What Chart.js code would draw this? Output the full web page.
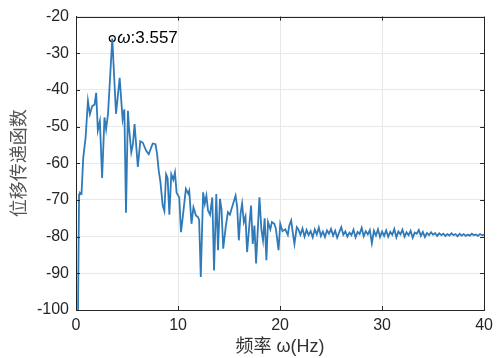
<!DOCTYPE html>
<html><head><meta charset="utf-8">
<script src="https://cdn.jsdelivr.net/npm/chart.js@4/dist/chart.umd.min.js"></script>
<style>html,body{margin:0;padding:0;background:#fff;}#wrap{width:499px;height:358px;}</style>
</head><body><div id="wrap"><canvas id="c" width="499" height="358"></canvas></div>
<script>
const freqHz = [0.2, 0.3, 0.39, 0.54, 0.71, 0.94, 1.17, 1.36, 1.59, 1.82, 1.98, 2.14, 2.34, 2.56, 2.79, 2.95, 3.14, 3.557, 3.92, 4.28, 4.57, 4.74, 4.9, 5.09, 5.19, 5.42, 5.58, 5.74, 6.06, 6.3, 6.55, 6.88, 7.13, 7.52, 7.79, 7.95, 8.11, 8.27, 8.5, 8.66, 8.83, 8.98, 9.15, 9.34, 9.54, 9.7, 9.86, 10.12, 10.29, 10.41, 10.77, 11.0, 11.1, 11.32, 11.51, 11.75, 11.97, 12.07, 12.23, 12.46, 12.62, 12.78, 12.94, 13.14, 13.36, 13.53, 13.75, 13.92, 14.11, 14.26, 14.43, 14.67, 14.89, 15.09, 15.25, 15.64, 15.8, 15.96, 16.13, 16.28, 16.45, 16.61, 16.77, 17.0, 17.16, 17.32, 17.49, 17.65, 17.81, 17.98, 18.17, 18.33, 18.49, 18.66, 18.82, 19.05, 19.2, 19.44, 19.59, 19.85, 20.02, 20.24, 20.51, 20.76, 20.9, 21.09, 21.25, 21.41, 21.64, 21.8,
 22.0, 22.2, 22.4, 22.6, 22.8, 23.0, 23.2, 23.4, 23.6, 23.8, 24.0, 24.2, 24.4, 24.6, 24.8, 25.0, 25.2, 25.4, 25.6, 25.8, 26.0, 26.2, 26.4, 26.6, 26.8, 27.0, 27.2, 27.4, 27.6, 27.8, 28.0, 28.2, 28.4, 28.6, 28.8, 29.0, 29.2, 29.4, 29.6, 29.8, 30.0, 30.2, 30.4, 30.6, 30.8, 31.0, 31.2, 31.4, 31.6, 31.8, 32.0, 32.2, 32.4, 32.6, 32.8, 33.0, 33.2, 33.4, 33.6, 33.8, 34.0, 34.2, 34.4, 34.6, 34.8, 35.0, 35.2, 35.4, 35.6, 35.8, 36.0, 36.2, 36.4, 36.6, 36.8, 37.0, 37.2, 37.4, 37.6, 37.8, 38.0, 38.2, 38.4, 38.6, 38.8, 39.0, 39.2, 39.4, 39.6, 39.8, 40.0];
const magDb = [-100, -68.5, -68, -68.3, -58.5, -53, -43, -46.6, -44.4, -44, -40.8, -51, -48.5, -64, -47.5, -50.7, -46.5, -26, -46.5, -36.7, -48, -45.3, -73.5, -45.7, -50, -57, -54.8, -49.3, -61, -54, -54.4, -56.6, -57.5, -54.6, -54.8, -57.5, -62, -65, -71.5, -73, -63, -64, -74, -63, -64.5, -62.5, -68, -69.3, -78.8, -76, -67, -68.3, -67.5, -76.5, -72, -74.2, -74.7, -75.5, -91, -67.9, -71, -68.8, -72.9, -74, -69.3, -89.2, -68.4, -83.7, -69.7, -72.5, -83.3, -77.4, -73.3, -74, -72.4, -68.8, -72, -81, -73.7, -71, -76, -74.5, -84.2, -76.5, -71.5, -82, -77, -87.3, -78.5, -69.3, -78, -81, -75, -86.4, -76, -78, -76, -76.5, -77.8, -83.7, -76.5, -78.5, -78, -79.5, -77, -75.6, -79, -82, -77.4, -78,
 -79.5, -77.8, -80.0, -78.2, -79.6, -78.5, -80.2, -78.0, -79.4, -77.5, -79.8, -78.6, -80.1, -78.3, -79.2, -77.9, -79.7, -78.4, -80.3, -78.8, -77.4, -79.5, -78.6, -80.0, -78.9, -79.6, -78.1, -80.2, -78.7, -79.3, -77.6, -79.9, -78.5, -79.4, -78.2, -81.8, -78.4, -79.7, -78.0, -80.1, -78.6, -79.8, -78.3, -80.0, -78.7, -79.5, -77.9, -80.2, -78.6, -79.4, -78.1, -80.0, -78.8, -79.6, -78.4, -80.3, -78.9, -79.2, -78.2, -79.8, -78.7, -80.1, -79.0, -79.6, -78.8, -79.5, -79.0, -79.8, -79.1, -79.6, -79.2, -79.8, -79.3, -79.7, -79.1, -79.6, -79.3, -79.9, -79.2, -79.7, -79.3, -79.8, -79.4, -79.7, -79.2, -79.6, -79.4, -79.8, -79.3, -79.6, -79.5];
const peakFreq = [3.557];
const peakDb = [-26];
const peakLabelSymbol = 'ω';
const peakLabelValue = ':3.557';
const xTicks = [0, 10, 20, 30, 40];
const yTicks = [-100, -90, -80, -70, -60, -50, -40, -30, -20];
const xTitle = '频率 ω(Hz)';
const yTitle = '位移传递函数';

const axisColor = '#262626';
const boxPlugin = {
  id: 'box',
  afterDraw(chart) {
    const ctx = chart.ctx, a = chart.chartArea;
    const xs = chart.scales.x, ys = chart.scales.y;
    ctx.save();
    ctx.strokeStyle = axisColor;
    ctx.lineWidth = 1;
    ctx.strokeRect(Math.round(a.left) + 0.5, Math.round(a.top) + 0.5, Math.round(a.right - a.left), Math.round(a.bottom - a.top));
    ctx.beginPath();
    const L = 4;
    xTicks.forEach(v => {
      const px = Math.round(xs.getPixelForValue(v)) + 0.5;
      ctx.moveTo(px, a.bottom); ctx.lineTo(px, a.bottom - L);
      ctx.moveTo(px, a.top); ctx.lineTo(px, a.top + L);
    });
    yTicks.forEach(v => {
      const py = Math.round(ys.getPixelForValue(v)) + 0.5;
      ctx.moveTo(a.left, py); ctx.lineTo(a.left + L, py);
      ctx.moveTo(a.right, py); ctx.lineTo(a.right - L, py);
    });
    ctx.stroke();
    const px = xs.getPixelForValue(peakFreq[0]) + 5;
    const py = ys.getPixelForValue(peakDb[0]);
    ctx.fillStyle = '#000';
    ctx.textBaseline = 'middle';
    ctx.font = 'italic 17px "Liberation Sans", Arial, sans-serif';
    ctx.fillText(peakLabelSymbol, px, py);
    const w = ctx.measureText(peakLabelSymbol).width;
    ctx.font = '17px "Liberation Sans", Arial, sans-serif';
    ctx.fillText(peakLabelValue, px + w, py);
    ctx.restore();
  }
};

new Chart(document.getElementById('c'), {
  type: 'line',
  data: {
    datasets: [
      {
        data: freqHz.map((f, i) => ({x: f, y: magDb[i]})),
        borderColor: '#2f7ab9',
        borderWidth: 1.8,
        pointRadius: 0,
        tension: 0,
        fill: false
      },
      {
        data: peakFreq.map((f, i) => ({x: f, y: peakDb[i]})),
        showLine: false,
        pointRadius: 3,
        pointStyle: 'circle',
        borderColor: '#000',
        backgroundColor: 'rgba(0,0,0,0)',
        borderWidth: 1.2
      }
    ]
  },
  options: {
    responsive: false,
    animation: false,
    devicePixelRatio: 1,
    layout: {padding: {left: 0, right: 12, top: 15, bottom: 0}},
    plugins: {legend: {display: false}, tooltip: {enabled: false}},
    scales: {
      x: {
        type: 'linear', min: 0, max: 40,
        afterBuildTicks: s => { s.ticks = xTicks.map(v => ({value: v})); },
        afterFit: s => { s.height = 48; },
        grid: {color: '#e8e8e8', drawTicks: false},
        border: {color: axisColor},
        ticks: {padding: 6, color: axisColor, font: {family: '"Liberation Sans", Arial, sans-serif', size: 16}},
        title: {display: true, text: xTitle, color: '#333', padding: {top: 0, bottom: 0},
          font: {family: '"Liberation Sans", "Noto Sans CJK SC", sans-serif', size: 18}}
      },
      y: {
        type: 'linear', min: -100, max: -20,
        afterBuildTicks: s => { s.ticks = yTicks.map(v => ({value: v})); },
        afterFit: s => { s.width = 76; },
        grid: {color: '#e8e8e8', drawTicks: false},
        border: {color: axisColor},
        ticks: {padding: 7, color: axisColor, font: {family: '"Liberation Sans", Arial, sans-serif', size: 16}},
        title: {display: true, text: yTitle, color: '#555', padding: {top: 7, bottom: 0},
          font: {family: '"Noto Sans CJK SC", sans-serif', size: 18}}
      }
    }
  },
  plugins: [boxPlugin]
});
</script>
</body></html>
